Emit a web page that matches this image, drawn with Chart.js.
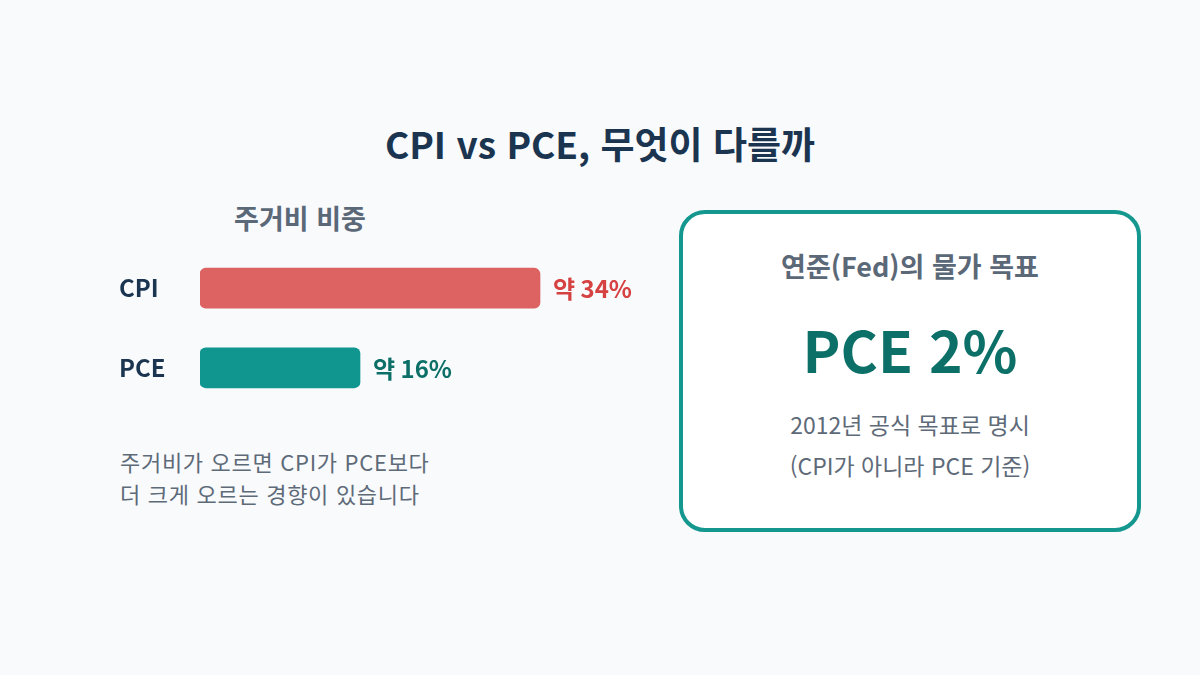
<!DOCTYPE html>
<html lang="ko">
<head>
<meta charset="utf-8">
<script src="https://cdn.jsdelivr.net/npm/chart.js@4.4.1/dist/chart.umd.min.js"></script>
<style>
  html, body { margin: 0; padding: 0; }
  body {
    width: 1200px; height: 675px; position: relative; overflow: hidden;
    background: #f8fafc;
    font-family: "Noto Sans CJK KR", "Noto Sans", sans-serif;
  }
  .abs { position: absolute; white-space: nowrap; }
  .center { text-align: center; }
  #title { left: 0; width: 1200px; top: 118px; line-height: 50px; font-size: 37px; font-weight: 700; color: #1b3550; }
  #subtitle { left: 100px; width: 400px; top: 200px; line-height: 36px; font-size: 27px; font-weight: 700; color: #5b6878; }
  #barWrap { left: 119px; top: 234px; width: 541px; height: 188px; }
  .note { left: 120px; font-size: 22px; letter-spacing: 0.7px; line-height: 32px; height: 32px; color: #5e6a78; }
  #card {
    left: 679px; top: 210px; width: 454px; height: 314px;
    background: #ffffff; border: 4px solid #13978f; border-radius: 26px;
  }
  #cardHead { left: 680px; width: 460px; top: 248px; line-height: 36px; font-size: 27px; font-weight: 700; color: #5b6878; }
  #cardBig { left: 680px; width: 460px; top: 308px; line-height: 80px; font-size: 57px; font-weight: 700; color: #0d7068; }
  .cardNote { left: 680px; width: 460px; line-height: 40px; height: 40px; font-size: 23px; color: #5e6a78; }
</style>
</head>
<body>
<div id="title" class="abs center">CPI vs PCE, 무엇이 다를까</div>
<div id="subtitle" class="abs center">주거비 비중</div>
<div id="barWrap" class="abs"><canvas id="shareChart"></canvas></div>
<div class="abs note" style="top:445px">주거비가 오르면 CPI가 PCE보다</div>
<div class="abs note" style="top:477px">더 크게 오르는 경향이 있습니다</div>
<div id="card" class="abs"></div>
<div id="cardHead" class="abs center">연준(Fed)의 물가 목표</div>
<div id="cardBig" class="abs center">PCE 2%</div>
<div class="abs center cardNote" style="top:404px">2012년 공식 목표로 명시</div>
<div class="abs center cardNote" style="top:445px">(CPI가 아니라 PCE 기준)</div>
<script>
// housing share of each index, percent
const categories = ['CPI', 'PCE'];
const housingShare = [34, 16];
const valueLabels = ['약 34%', '약 16%'];
const barColors = ['#dd6262', '#10968f'];
const labelColors = ['#d64141', '#0d7068'];

const FONT = '"Noto Sans CJK KR", "Noto Sans", sans-serif';

// draws the "약 xx%" text just past the end of each bar
const valueLabelPlugin = {
  id: 'valueLabels',
  afterDatasetsDraw(chart) {
    const ctx = chart.ctx;
    const meta = chart.getDatasetMeta(0);
    ctx.save();
    ctx.font = '700 24px ' + FONT;
    ctx.textBaseline = 'middle';
    ctx.textAlign = 'left';
    meta.data.forEach((bar, i) => {
      ctx.fillStyle = labelColors[i];
      ctx.fillText(valueLabels[i], bar.x + 13, bar.y + 1);
    });
    ctx.restore();
  }
};

new Chart(document.getElementById('shareChart').getContext('2d'), {
  type: 'bar',
  data: {
    labels: categories,
    datasets: [{
      data: housingShare,
      backgroundColor: barColors,
      borderRadius: 6,
      borderSkipped: false,
      barThickness: 40
    }]
  },
  options: {
    indexAxis: 'y',
    responsive: true,
    maintainAspectRatio: false,
    animation: false,
    layout: { padding: { left: 0, right: 60, top: 0, bottom: 0 } },
    plugins: {
      legend: { display: false },
      tooltip: { enabled: false }
    },
    scales: {
      x: {
        display: false,
        min: 0,
        max: 40
      },
      y: {
        afterFit(scale) { scale.width = 81; },
        grid: { display: false },
        border: { display: false },
        ticks: {
          crossAlign: 'far',
          padding: 0,
          color: '#1b3550',
          font: { family: FONT, size: 24, weight: '700' }
        }
      }
    }
  },
  plugins: [valueLabelPlugin]
});
</script>
</body>
</html>
